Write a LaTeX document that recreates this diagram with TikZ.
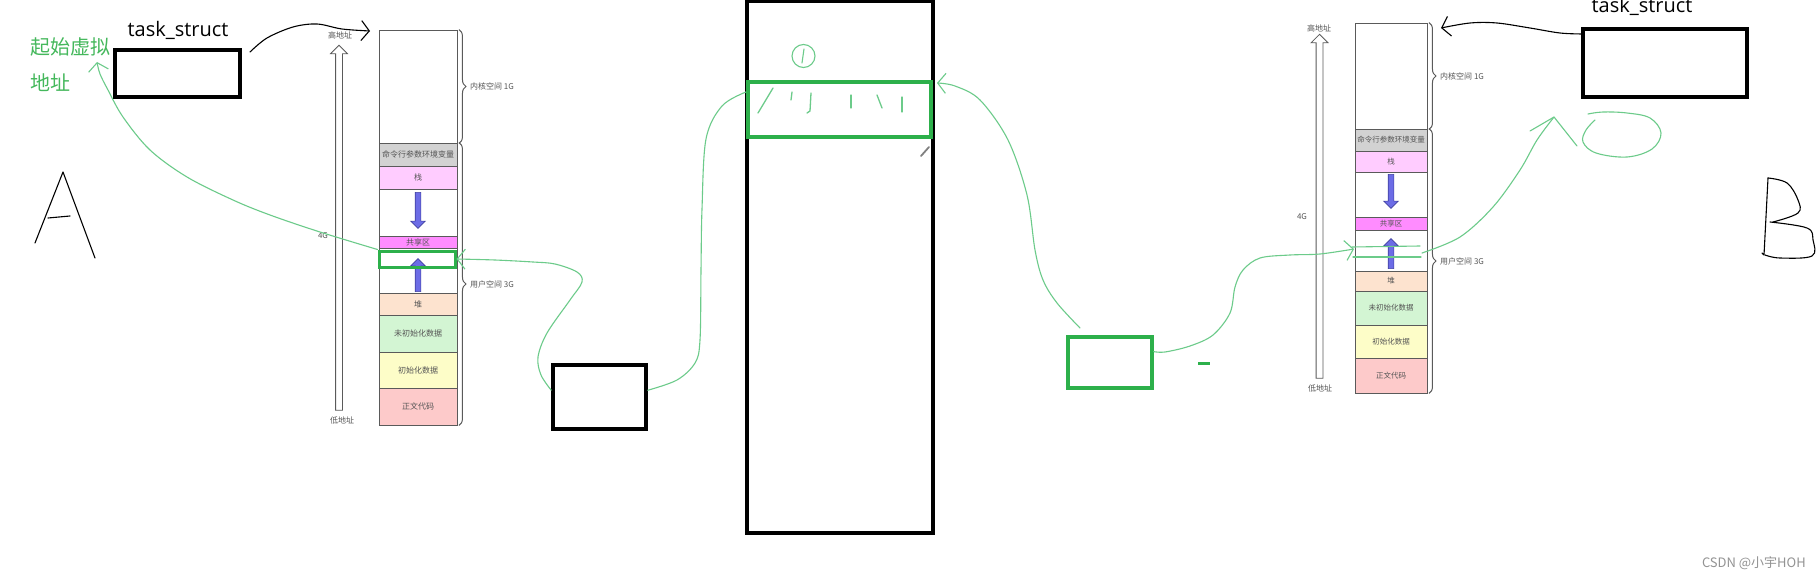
\documentclass[tikz,border=0pt]{standalone}
\usepackage{fontspec}
\setmainfont{Open Sans}
\newfontfamily\cjk{Noto Sans CJK SC}
\usetikzlibrary{arrows.meta,shapes.arrows,decorations.pathreplacing,positioning,calc}
\definecolor{penGreen}{HTML}{2DB04B}
\definecolor{inkGreen}{HTML}{6CCB8A}
\definecolor{txtGreen}{HTML}{45B85C}
\definecolor{segline}{HTML}{5A5A5A}
\definecolor{segtext}{HTML}{555555}
\definecolor{cmdGray}{HTML}{D2D2D2}
\definecolor{stkPink}{HTML}{FFCCFF}
\definecolor{shmPink}{HTML}{FF8CFF}
\definecolor{heapPeach}{HTML}{FDE3CF}
\definecolor{bssGreen}{HTML}{D3F5D3}
\definecolor{dataYel}{HTML}{FDFDC8}
\definecolor{textRed}{HTML}{FDCACA}
\definecolor{arrBlue}{HTML}{6C6CE6}
\definecolor{arrEdge}{HTML}{4040A0}
\begin{document}
\begin{tikzpicture}[x=1pt,y=-1pt,
    lseg/.style={draw=segline, line width=0.9pt, inner sep=0pt, minimum width=78, font=\cjk\fontsize{8}{8}\selectfont, text=segtext},
    rseg/.style={lseg, minimum width=72, font=\cjk\fontsize{7.5}{7.5}\selectfont},
    blackbox/.style={draw=black, line width=3.5pt, inner sep=0pt},
    greenbox/.style={draw=penGreen, line width=3.5pt, inner sep=0pt},
    addr/.style={single arrow, draw=segline, fill=white, line width=0.8pt, inner xsep=0pt, inner ysep=3pt, single arrow head extend=5pt, single arrow tip angle=90, rotate=90},
    growarrow/.style={single arrow, draw=arrEdge, fill=arrBlue, line width=0.6pt, inner xsep=0pt, inner ysep=2.5pt, single arrow head extend=4.5pt, single arrow tip angle=90},
    brc/.style={draw=segline, line width=1pt, decorate, decoration={brace, amplitude=7pt}},
    small/.style={font=\cjk\fontsize{8}{8}\selectfont, text=segtext, inner sep=0pt},
    ink/.style={draw=inkGreen, line width=1.1pt, line cap=round, line join=round},
    pen/.style={draw=black, line width=1.1pt, line cap=round, line join=round},
    barb/.style={-{Straight Barb[length=8pt,width=20pt]}}
]
\fill[white] (0,0) rectangle (1820,578);
\useasboundingbox (0,0) rectangle (1820,578);

\node[lseg, minimum height=113] (Lker) at (418,86.5) {};
\node[lseg, fill=cmdGray, minimum height=23] (Lcmd) at (418,154.5) {命令行参数环境变量};
\node[lseg, fill=stkPink, minimum height=23] (Lstk) at (418,177.5) {栈};
\node[lseg, minimum height=47] (Lgap1) at (418,212.5) {};
\node[lseg, fill=shmPink, minimum height=12] (Lshm) at (418,242) {共享区};
\node[lseg, minimum height=45] (Lgap2) at (418,270.5) {};
\node[lseg, fill=heapPeach, minimum height=22] (Lheap) at (418,304) {堆};
\node[lseg, fill=bssGreen, minimum height=37] (Lbss) at (418,333.5) {未初始化数据};
\node[lseg, fill=dataYel, minimum height=36] (Ldata) at (418,370) {初始化数据};
\node[lseg, fill=textRed, minimum height=37] (Ltext) at (418,406.5) {正文代码};
\node[growarrow, minimum height=36, rotate=-90] (LDown) at (418,209) {};
\node[growarrow, minimum height=33, rotate=90] (LUp) at (418,276.5) {};
\node[greenbox, line width=3pt, minimum width=76, minimum height=16] (LGreen) at (417,259) {};
\draw[brc] ([xshift=1.5pt]Lker.north east) -- ([xshift=1.5pt]Lker.south east);
\draw[brc] ([xshift=1.5pt]Lcmd.north east) -- ([xshift=1.5pt]Ltext.south east);
\node[small, anchor=west] (LKerName) at (470,86) {内核空间 1G};
\node[small, anchor=west] (LUserName) at (470,284) {用户空间 3G};
\node[addr, minimum height=365] (LAddr) at (339,229.5) {};
\node[small] (LHigh) at (340,35) {高地址};
\node[small] (LLow) at (342,420) {低地址};
\node[small] (L4G) at (323,236) {4G};

\node[rseg, minimum height=106] (Rker) at (1391,76) {};
\node[rseg, fill=cmdGray, minimum height=22] (Rcmd) at (1391,140) {命令行参数环境变量};
\node[rseg, fill=stkPink, minimum height=21] (Rstk) at (1391,161.5) {栈};
\node[rseg, minimum height=45] (Rgap1) at (1391,194.5) {};
\node[rseg, fill=shmPink, minimum height=13] (Rshm) at (1391,223.5) {共享区};
\node[rseg, minimum height=41] (Rgap2) at (1391,250.5) {};
\node[rseg, fill=heapPeach, minimum height=20] (Rheap) at (1391,281) {堆};
\node[rseg, fill=bssGreen, minimum height=34] (Rbss) at (1391,308) {未初始化数据};
\node[rseg, fill=dataYel, minimum height=33] (Rdata) at (1391,341.5) {初始化数据};
\node[rseg, fill=textRed, minimum height=35] (Rtext) at (1391,375.5) {正文代码};
\node[growarrow, minimum height=34, rotate=-90] (RDown) at (1391,190) {};
\node[growarrow, minimum height=30, rotate=90] (RUp) at (1391,255) {};
\draw[brc] ([xshift=1.5pt]Rker.north east) -- ([xshift=1.5pt]Rker.south east);
\draw[brc] ([xshift=1.5pt]Rcmd.north east) -- ([xshift=1.5pt]Rtext.south east);
\node[small, anchor=west] (RKerName) at (1440,76) {内核空间 1G};
\node[small, anchor=west] (RUserName) at (1440,261) {用户空间 3G};
\node[addr, minimum height=344] (RAddr) at (1319.5,208) {};
\node[small] (RHigh) at (1319,28) {高地址};
\node[small] (RLow) at (1320,388) {低地址};
\node[small] (R4G) at (1302,217) {4G};

\node[blackbox, minimum width=125, minimum height=47] (LTask) at (177.5,73.5) {};
\node[anchor=base, font=\fontsize{20}{20}\selectfont, inner sep=0pt] (LTaskName) at (178,37) {task\_struct};
\node[blackbox, minimum width=164, minimum height=68] (RTask) at (1665,63) {};
\node[anchor=base, font=\fontsize{20}{20}\selectfont, inner sep=0pt] (RTaskName) at (1642,13) {task\_struct};
\node[blackbox, minimum width=93, minimum height=64] (LMid) at (599.5,397) {};
\node[blackbox, minimum width=186, minimum height=532] (Big) at (840,267) {};
\node[greenbox, minimum width=183, minimum height=55] (Band) at (839.5,109.5) {};
\node[greenbox, minimum width=84, minimum height=51] (RGreen) at (1110,362.5) {};
\node[anchor=base west, font=\cjk\fontsize{20}{20}\selectfont, text=txtGreen, inner sep=0pt] (StartA) at (30,55) {起始虚拟};
\node[anchor=base west, font=\cjk\fontsize{20}{20}\selectfont, text=txtGreen, inner sep=0pt] (StartB) at (30,90) {地址};

\coordinate (StartTip) at (97,62);
\coordinate (BandIn) at (746,92);
\coordinate (BandOut) at (937,83);
\coordinate (RGreenIn) at (1080,328);
\coordinate (RArrIn) at (1354,249);
\coordinate (ROut) at (1422,253);
\coordinate (RLoopTip) at (1554,117);
\coordinate (LTaskOut) at (250,52);
\coordinate (LHighTip) at (370,31);
\coordinate (RTaskOut) at (1583,34);
\coordinate (RTopTip) at (1441,28);

\draw[ink, barb] plot[smooth, tension=0.55] coordinates {(LGreen.north west) (320,232) (270,215) (233,200) (187,177) (150,150) (123,117) (108,90) (100,74) (StartTip)};
\draw[ink, barb] plot[smooth, tension=0.55] coordinates {($(LMid.north west)!0.4!(LMid.south west)$) (541,375) (538,357) (547,333) (570,300) (582,282) (577,272) (555,264) (533,262) (495,260) (LGreen.east)};
\draw[ink] plot[smooth, tension=0.55] coordinates {($(LMid.north east)!0.4!(LMid.south east)$) (677,380) (695,363) (700,340) (701,270) (702,209) (706,139) (722,106) (BandIn)};
\draw[ink, barb] plot[smooth, tension=0.55] coordinates {(RGreenIn) (1057,303) (1043,280) (1035,250) (1027,195) (1008,140) (980,100) (955,86) (BandOut)};
\draw[ink, barb] plot[smooth, tension=0.55] coordinates {($(RGreen.north east)!0.3!(RGreen.south east)$) (1165,352) (1190,346) (1213,335) (1230,313) (1235,287) (1243,270) (1260,258) (1290,255) (1320,254) (RArrIn)};
\draw[ink] (1352,247) -- (1420,246);
\draw[ink] (1353,257) -- (1421,257);
\draw[ink] plot[smooth, tension=0.55] coordinates {(ROut) (1460,237) (1493,207) (1520,170) (1537,140) (RLoopTip)};
\draw[ink] (1530,131) -- (RLoopTip) -- (1577,146);
\draw[ink] plot[smooth, tension=0.6] coordinates {(1595,120) (1586,130) (1583,142) (1596,153) (1627,157) (1652,149) (1661,133) (1650,118) (1627,113) (1603,112) (1588,114)};

\draw[ink, line width=1.3pt] (773,88) -- (758,113);
\draw[ink, line width=1.3pt] (792,92) -- (791,100);
\draw[ink, line width=1.3pt] (811,93) -- (810,111) -- (807,113);
\draw[ink, line width=1.3pt] (851,95) -- (851,108);
\draw[ink, line width=1.3pt] (877,95) -- (882,108);
\draw[ink, line width=1.3pt] (902,97) -- (902,112);
\draw[ink] (803.5,56) circle[radius=11.5pt];
\draw[ink] (804,49) -- (802,63);
\draw[gray, line width=1.8pt, line cap=round] (921,156) -- (929,147);
\draw[penGreen, line width=3pt] (1198,363) -- (1210,363);

\draw[pen, barb] plot[smooth, tension=0.55] coordinates {(LTaskOut) (267,38) (293,27) (317,24) (342,29) (LHighTip)};
\draw[pen, barb] plot[smooth, tension=0.55] coordinates {(RTaskOut) (1560,33) (1530,28) (1497,23) (1470,23) (RTopTip)};
\draw[pen] (35,243) -- (63,172) -- (95,258);
\draw[pen] (48,218) -- (70,216);
\draw[pen] (1762,253) -- (1764,255) -- (1768,178);
\draw[pen] plot[smooth, tension=0.6] coordinates {(1768,178) (1787,183) (1798,200) (1798,213) (1773,222)};
\draw[pen] plot[smooth, tension=0.6] coordinates {(1770,222) (1807,228) (1813,240) (1812,256) (1780,258) (1765,255)};

\node[anchor=base east, font=\cjk\fontsize{13}{13}\selectfont, text=gray!85, inner sep=0pt] (Mark) at (1806,567) {CSDN @小宇HOH};
\end{tikzpicture}
\end{document}
